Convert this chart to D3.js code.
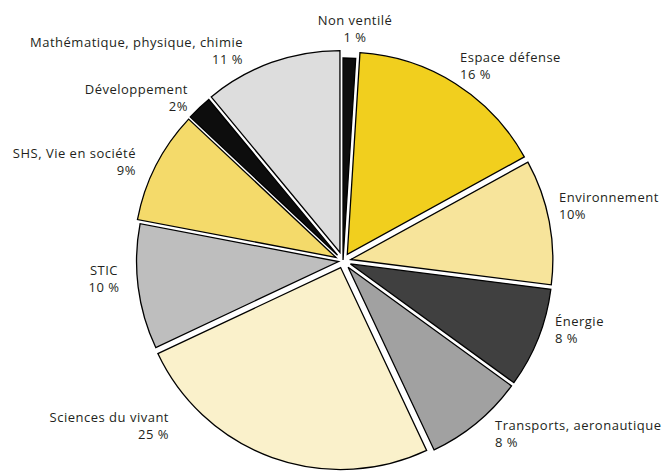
<!DOCTYPE html>
<html>
<head>
<meta charset="utf-8">
<script src="https://cdn.jsdelivr.net/npm/d3@7"></script>
<style>
  html, body { margin: 0; padding: 0; background: #fff; }
  svg { display: block; }
  text { font-family: "Open Sans", "Noto Sans", sans-serif; font-size: 13px; letter-spacing: 0.5px; fill: #231f20; }
</style>
</head>
<body>
<svg id="chart" width="662" height="472"></svg>
<script>
// Répartition par domaine (en %), dans le sens des aiguilles d'une montre depuis midi
const categories = [
  "Non ventilé", "Espace défense", "Environnement", "Énergie",
  "Transports, aeronautique", "Sciences du vivant", "STIC",
  "SHS, Vie en société", "Développement", "Mathématique, physique, chimie"
];
const values = [1, 16, 10, 8, 8, 25, 10, 9, 2, 11];
const valueLabels = ["1 %", "16 %", "10%", "8 %", "8 %", "25 %", "10 %", "9%", "2%", "11 %"];

const colors = [
  "#0d0d0d", "#f1cf1e", "#f7e49b", "#404040", "#a1a1a1",
  "#faf1cb", "#bebebe", "#f4da6a", "#0d0d0d", "#dddddd"
];

// Décalage radial de chaque part (px)
const pull = [1, 8, 8, 8, 8, 7, 4.5, 8, 8, 9];

// Position et ancrage des étiquettes
const labelSpec = [
  { x: 355, y: 25, anchor: "middle" },
  { x: 460, y: 62, anchor: "start" },
  { x: 559, y: 202, anchor: "start" },
  { x: 555, y: 326, anchor: "start" },
  { x: 495, y: 430, anchor: "start" },
  { x: 169, y: 422, anchor: "end" },
  { x: 104, y: 275, anchor: "middle" },
  { x: 136, y: 158, anchor: "end" },
  { x: 188, y: 94, anchor: "end" },
  { x: 243, y: 47, anchor: "end" }
];

const cx = 343, cy = 261, radius = 202, lineGap = 16.5;

const svg = d3.select("#chart");
const g = svg.append("g").attr("transform", `translate(${cx},${cy})`);

const pie = d3.pie().sort(null).value(d => d)(values);
const arc = d3.arc().innerRadius(0).outerRadius(radius);

g.selectAll("path.slice")
  .data(pie)
  .join("path")
  .attr("class", "slice")
  .attr("d", arc)
  .attr("transform", (d, i) => {
    const a = (d.startAngle + d.endAngle) / 2;
    return `translate(${pull[i] * Math.sin(a)},${-pull[i] * Math.cos(a)})`;
  })
  .attr("fill", (d, i) => colors[i])
  .attr("stroke", "#000")
  .attr("stroke-width", 1.3)
  .attr("stroke-linejoin", "miter");

const labels = svg.append("g")
  .selectAll("text")
  .data(categories)
  .join("text")
  .attr("x", (d, i) => labelSpec[i].x)
  .attr("y", (d, i) => labelSpec[i].y)
  .attr("text-anchor", (d, i) => labelSpec[i].anchor);

labels.append("tspan").text(d => d);
labels.append("tspan")
  .attr("x", (d, i) => labelSpec[i].x)
  .attr("dy", lineGap)
  .text((d, i) => valueLabels[i]);
</script>
</body>
</html>
